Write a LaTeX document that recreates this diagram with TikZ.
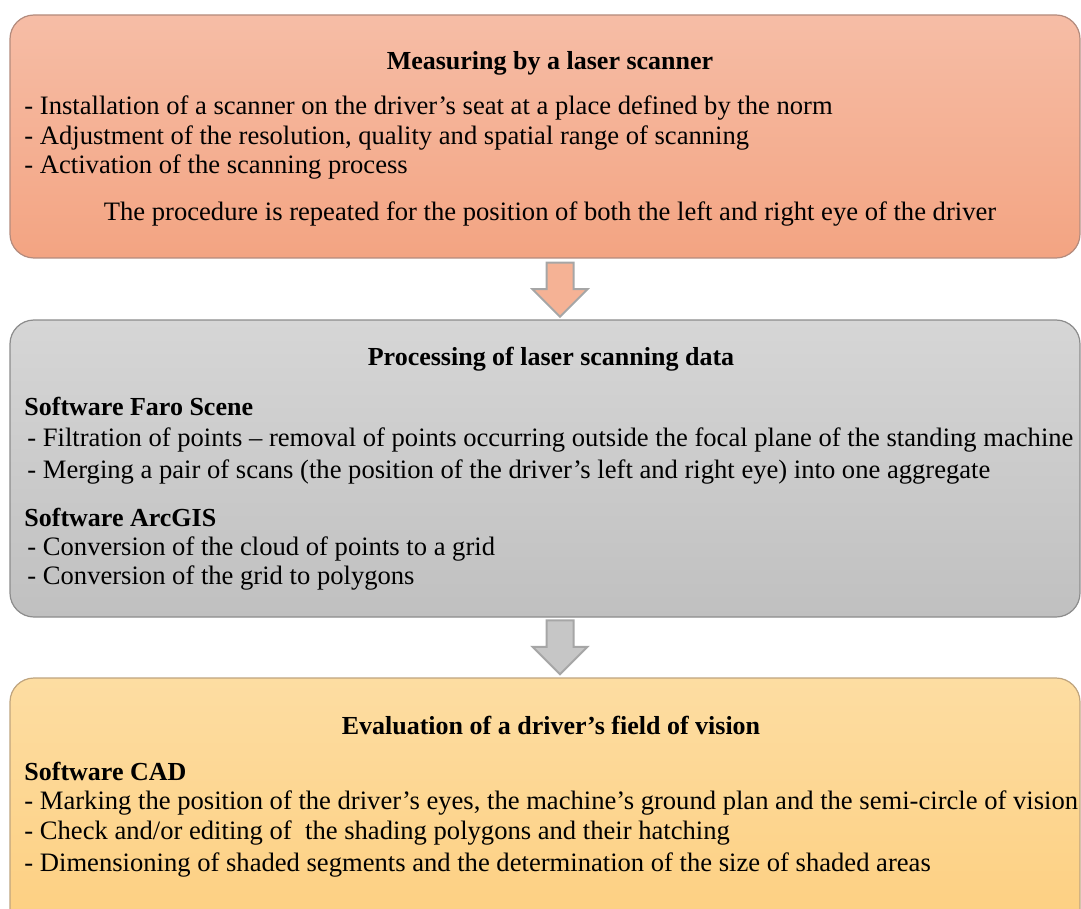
\documentclass[tikz,border=0pt]{standalone}
\usepackage{fontspec}
\setmainfont{Liberation Serif}
\usetikzlibrary{shapes.arrows, positioning, calc}
\definecolor{salmontop}{HTML}{F6BDA6}
\definecolor{salmonbot}{HTML}{F3A482}
\definecolor{salmonline}{HTML}{B38B7D}
\definecolor{greytop}{HTML}{D6D6D6}
\definecolor{greybot}{HTML}{C0C0C0}
\definecolor{greyline}{HTML}{8C8C8C}
\definecolor{goldtop}{HTML}{FDDDA2}
\definecolor{goldbot}{HTML}{FDCF80}
\definecolor{goldline}{HTML}{BFA47E}
\definecolor{arrowline}{HTML}{A6A6A6}
\tikzstyle{every node}=[font=\fontsize{13.3}{14}\selectfont, inner sep=0pt]
\tikzstyle{stage} = [rectangle, rounded corners=12pt, minimum width=535pt, line width=0.6pt]
\tikzstyle{head} = [font=\fontsize{13}{14}\selectfont\bfseries]
\tikzstyle{item} = [anchor=west]
\tikzstyle{flow} = [single arrow, shape border rotate=270, inner sep=6.25pt, single arrow head extend=7pt, minimum height=27pt, draw=arrowline, line width=1pt]

\begin{document}
\begin{tikzpicture}[x=0.5pt, y=-0.5pt]
            \clip (0,0) rectangle (1081,909);
            \useasboundingbox (0,0) rectangle (1081,909);
            % stages
            \node (meas) [stage, minimum height=121.5pt, draw=salmonline, top color=salmontop, bottom color=salmonbot] at (545,136.5) {};
            \node (proc) [stage, minimum height=148.5pt, draw=greyline, top color=greytop, bottom color=greybot] at (545,468.5) {};
            \node (eval) [stage, minimum height=128.5pt, draw=goldline, top color=goldtop, bottom color=goldbot] at (545,806.5) {};
            % arrows
            \node (arr1) [flow, fill=salmonbot!85!white] at ($(meas.south)!0.5!(proc.north)+(15,-6)$) {};
            \node (arr2) [flow, fill=greybot!90!white] at ($(proc.south)!0.5!(eval.north)+(15,-7)$) {};
            % texts of the first stage
            \node (measT) [head] at (550,63) {Measuring by a laser scanner};
            \node (meas1) [item] at (24,108) {- Installation of a scanner on the driver's seat at a place defined by the norm};
            \node (meas2) [item] at (24,138) {- Adjustment of the resolution, quality and spatial range of scanning};
            \node (meas3) [item] at (24,167) {- Activation of the scanning process};
            \node (measN) at (550,214) {The procedure is repeated for the position of both the left and right eye of the driver};
            % texts of the second stage
            \node (procT) [head] at (551,359) {Processing of laser scanning data};
            \node (faro) [head, item] at (24,406) {Software Faro Scene};
            \node (proc1) [item] at (27,440) {- Filtration of points -- removal of points occurring outside the focal plane of the standing machine};
            \node (proc2) [item] at (27,472) {- Merging a pair of scans (the position of the driver's left and right eye) into one aggregate};
            \node (arcgis) [head, item] at (24,517) {Software ArcGIS};
            \node (proc3) [item] at (27,549) {- Conversion of the cloud of points to a grid};
            \node (proc4) [item] at (27,578) {- Conversion of the grid to polygons};
            % texts of the third stage
            \node (evalT) [head] at (551,725) {Evaluation of a driver's field of vision};
            \node (cad) [head, item] at (24,771) {Software CAD};
            \node (eval1) [item] at (24,803) {- Marking the position of the driver's eyes, the machine's ground plan and the semi-circle of vision};
            \node (eval2) [item] at (24,833) {- Check and/or editing of \ the shading polygons and their hatching};
            \node (eval3) [item] at (24,865) {- Dimensioning of shaded segments and the determination of the size of shaded areas};
          \end{tikzpicture}
\end{document}
